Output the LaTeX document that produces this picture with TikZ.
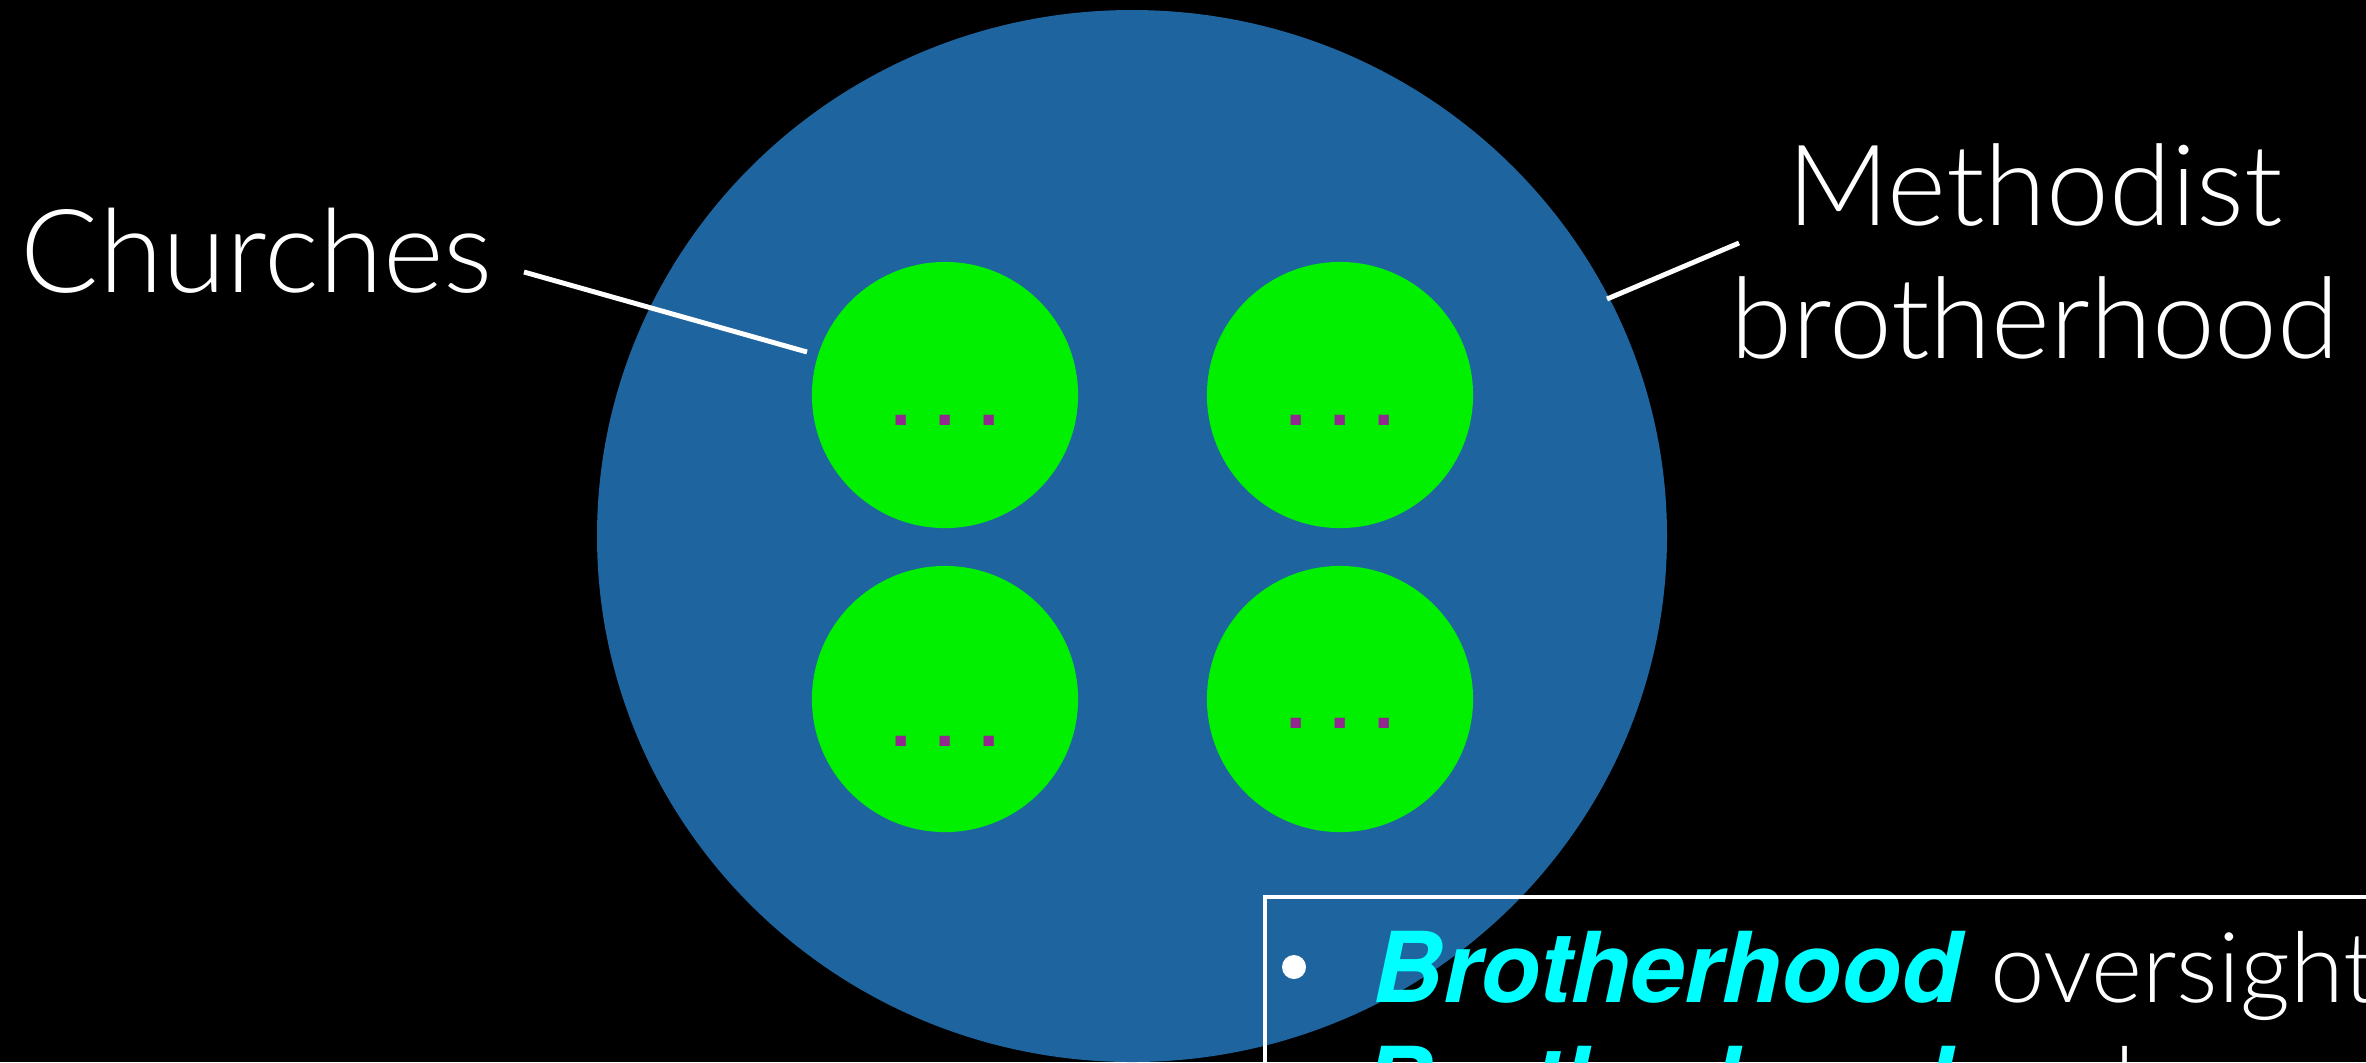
\documentclass[tikz,border=0pt]{standalone}
\usepackage{fontspec}
\IfFontExistsTF{Lato Light}{\newfontfamily\thinfont{Lato Light}}{\newfontfamily\thinfont{Liberation Sans}}
\newfontfamily\heros{TeX Gyre Heros}
\definecolor{bgblue}{RGB}{30,100,158}
\definecolor{churchgreen}{RGB}{0,240,0}
\definecolor{dotpurple}{RGB}{146,39,143}
\definecolor{cyantext}{RGB}{0,255,255}
\tikzset{
  church/.style={circle, fill=churchgreen, minimum size=2.66cm, inner sep=0pt},
  dots/.style={anchor=base, text=dotpurple, inner sep=0pt, font=\heros\fontsize{28}{30}\selectfont},
  label/.style={text=white, inner sep=0pt, font=\thinfont\fontsize{32}{37.8}\selectfont},
  leader/.style={draw=white, line width=1.4pt},
}
\newcommand{\dotrow}{.\hspace{0.165cm}.\hspace{0.165cm}.}
\begin{document}
\begin{tikzpicture}[x=0.01cm,y=-0.01cm]
\useasboundingbox (0,0) rectangle (2366,1062);
\clip (0,0) rectangle (2366,1062);
\fill[black] (0,0) rectangle (2366,1062);
% brotherhood
\fill[bgblue] (1132,536) ellipse [x radius=535, y radius=526];
\node[inner sep=0pt, minimum size=0pt] (brother) at (1132,536) {};
% churches
\node[church] (c1) at (945,395) {};
\node[church] (c2) at (1340,395) {};
\node[church] (c3) at (945,699) {};
\node[church] (c4) at (1340,699) {};
\node[dots] (d1) at (945,425) {\dotrow};
\node[dots] (d2) at (1340,425) {\dotrow};
\node[dots] (d3) at (945,746) {\dotrow};
\node[dots] (d4) at (1340,728) {\dotrow};
% labels
\node[label, anchor=base west] (lchurch) at (20,292) {\fontsize{33}{38}\selectfont Churches};
\node[label, anchor=base, align=center] (lmeth) at (2035,358) {Methodist\\brotherhood};
\coordinate (chA) at (524,272);
\coordinate (chB) at (807,352);
\coordinate (mbA) at (1739,243);
\coordinate (mbB) at (1607,299);
\draw[leader] (chA) -- (chB);
\draw[leader] (mbA) -- (mbB);
% box
\node[draw=white, line width=1.15pt, anchor=north west, minimum width=14cm, minimum height=4cm, inner sep=0pt] (box) at (1263,895) {};
\fill[white] (1294,967) circle [radius=12];
\node[anchor=base west, inner sep=0pt, text=white, font=\fontsize{27.8}{32}\selectfont] (b1) at (1372,1002)
  {{\heros\bfseries\itshape\color{cyantext}Brotherhood} {\thinfont oversight}};
\fill[white] (1294,1082) circle [radius=12];
\node[anchor=base west, inner sep=0pt, text=white, font=\fontsize{27.8}{32}\selectfont] (b2) at (1362,1117)
  {{\heros\bfseries\itshape\color{cyantext}Brotherhood} {\thinfont and}};
\end{tikzpicture}
\end{document}
